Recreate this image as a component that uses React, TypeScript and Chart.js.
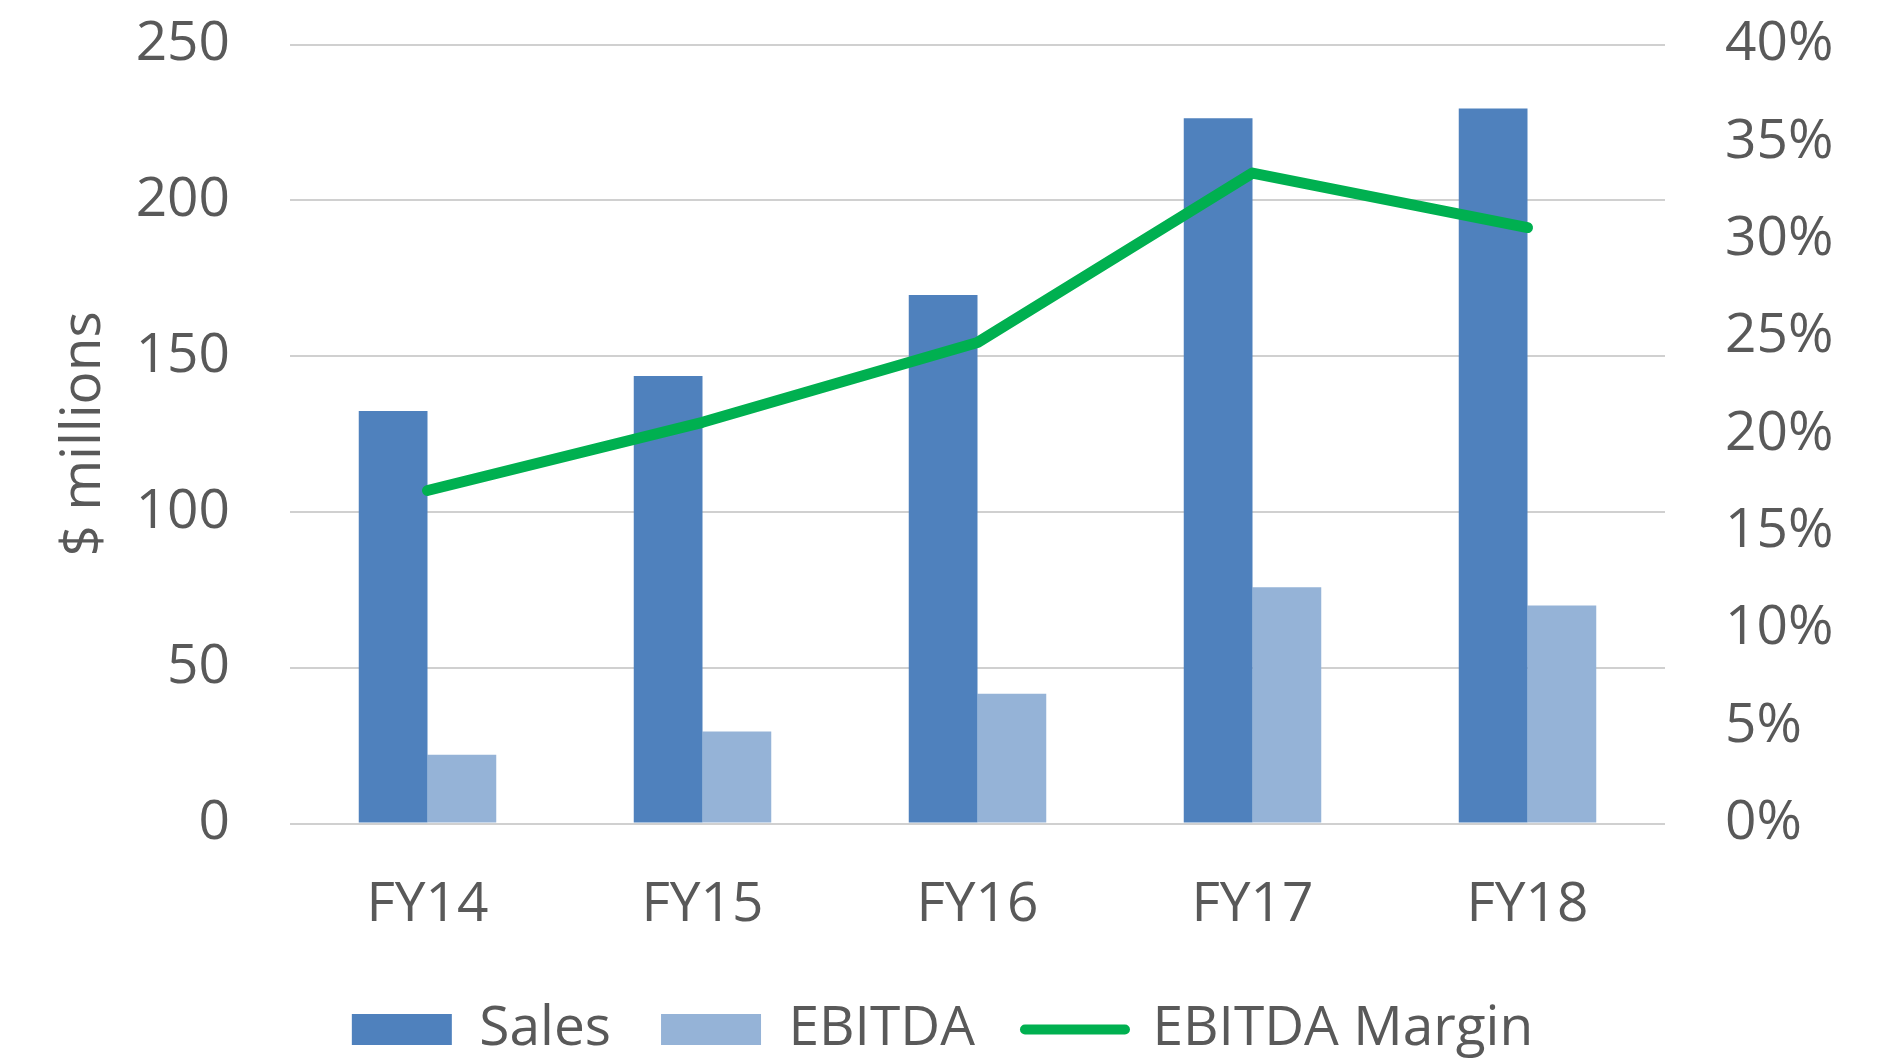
import React, { useEffect, useRef } from "react";
import { Chart, registerables } from "chart.js";

Chart.register(...registerables);

const categories = ["FY14", "FY15", "FY16", "FY17", "FY18"];
const salesValues = [132.4, 143.6, 169.6, 226.3, 229.5];
const ebitdaValues = [22.1, 29.5, 41.6, 75.8, 70.0];
const marginValues = [17.1, 20.6, 24.7, 33.4, 30.6];
const seriesNames = ["Sales", "EBITDA", "EBITDA Margin"];
const leftAxisTitle = "$ millions";

const FONT = "'Open Sans', sans-serif";
const TEXT = "#595959";

export default function App() {
  const ref = useRef<HTMLCanvasElement | null>(null);

  useEffect(() => {
    if (!ref.current) return;
    const chart = new Chart(ref.current, {
      type: "bar",
      data: {
        labels: categories,
        datasets: [
          {
            type: "bar",
            label: seriesNames[0],
            data: salesValues,
            backgroundColor: "#4f81bd",
            borderWidth: 0,
            yAxisID: "y",
            order: 1,
            categoryPercentage: 0.5,
            barPercentage: 1.0,
          },
          {
            type: "bar",
            label: seriesNames[1],
            data: ebitdaValues,
            backgroundColor: "#95b3d7",
            borderWidth: 0,
            yAxisID: "y",
            order: 1,
            categoryPercentage: 0.5,
            barPercentage: 1.0,
          },
          {
            type: "line",
            label: seriesNames[2],
            data: marginValues,
            borderColor: "#00b050",
            backgroundColor: "#00b050",
            borderWidth: 11,
            borderCapStyle: "round",
            borderJoinStyle: "round",
            pointRadius: 0,
            tension: 0,
            yAxisID: "y1",
            order: 0,
          },
        ] as any,
      },
      options: {
        animation: false,
        responsive: true,
        maintainAspectRatio: false,
        layout: { padding: { top: 44.5, bottom: -6, left: 0, right: 0 } },
        plugins: {
          tooltip: { enabled: false },
          legend: {
            position: "bottom",
            labels: {
              usePointStyle: true,
              pointStyleWidth: 100,
              boxWidth: 100,
              boxHeight: 31,
              padding: 50,
              color: TEXT,
              font: { family: FONT, size: 55 },
              generateLabels: (c: any) =>
                c.data.datasets.map((ds: any, i: number) => {
                  const isLine = ds.type === "line";
                  const col = isLine ? ds.borderColor : ds.backgroundColor;
                  return {
                    text: ds.label,
                    datasetIndex: i,
                    fillStyle: col,
                    strokeStyle: col,
                    lineWidth: isLine ? 10 : 0,
                    lineCap: "round",
                    pointStyle: isLine ? "line" : "rect",
                    hidden: false,
                    fontColor: TEXT,
                  };
                }),
            },
          },
        },
        scales: {
          x: {
            grid: { display: false },
            border: { display: false },
            ticks: {
              color: TEXT,
              font: { family: FONT, size: 55 },
              padding: 41,
            },
            afterFit: (s: any) => {
              s.height = 128.5;
            },
          },
          y: {
            position: "left",
            min: 0,
            max: 250,
            grid: { color: "#d0d0d0", lineWidth: 2, drawTicks: false },
            border: { display: false },
            ticks: {
              stepSize: 50,
              color: TEXT,
              font: { family: FONT, size: 55 },
              padding: 60,
            },
            title: {
              display: true,
              text: leftAxisTitle,
              color: TEXT,
              font: { family: FONT, size: 55 },
              padding: { top: 51, bottom: 0 },
            },
            afterFit: (s: any) => {
              s.width = 290;
              s.paddingTop = 0;
              s.paddingBottom = 0;
            },
          },
          y1: {
            position: "right",
            min: 0,
            max: 40,
            grid: { display: false, drawTicks: false },
            border: { display: false },
            ticks: {
              stepSize: 5,
              color: TEXT,
              font: { family: FONT, size: 55 },
              padding: 60,
              callback: (v: any) => `${v}%`,
            },
            afterFit: (s: any) => {
              s.width = 220;
              s.paddingTop = 0;
              s.paddingBottom = 0;
            },
          },
        },
      } as any,
    });
    return () => chart.destroy();
  }, []);

  return (
    <div
      style={{
        position: "fixed",
        left: 0,
        top: 0,
        width: 1885,
        height: 1061,
        background: "#ffffff",
      }}
    >
      <canvas ref={ref} />
    </div>
  );
}
